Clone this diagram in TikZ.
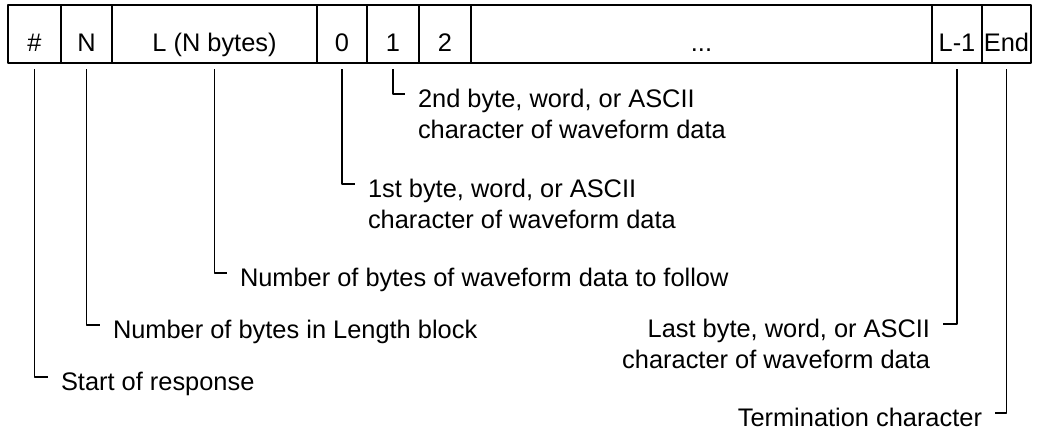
\documentclass[tikz,border=0pt]{standalone}
\usepackage{fontspec}
\setmainfont{Liberation Sans}

\begin{document}
\begin{tikzpicture}[x=1pt, y=-1pt, line join=round,
    font=\fontsize{25.4}{31}\selectfont,
    cell/.style={draw, line width=1.8pt, minimum height=58pt, inner sep=0pt, outer sep=0pt, text height=34pt, text depth=0pt},
    lbl/.style={inner xsep=13pt, inner ysep=0pt, outer sep=0pt, text height=26pt, text depth=0pt},
    leader/.style={line width=1.2pt}]
    \useasboundingbox (0,0) rectangle (1041,434);

    % 数据块
    \node[cell, minimum width=53pt] (hash) at (34.5,34) {\#};
    \node[cell, minimum width=51pt] (num) at (86.5,34) {N};
    \node[cell, minimum width=205pt] (len) at (214.5,34) {L (N bytes)};
    \node[cell, minimum width=50pt] (byteA) at (342,34) {0};
    \node[cell, minimum width=52pt] (byteB) at (393,34) {1};
    \node[cell, minimum width=52pt] (byteC) at (445,34) {2};
    \node[cell, minimum width=461pt] (dots) at (701.5,34) {...};
    \node[cell, minimum width=50pt] (byteLast) at (957,34) {L-1};
    \node[cell, minimum width=49pt] (term) at (1006.5,34) {End};

    % 说明文字
    \node[lbl, anchor=west] (tSecond) at (405,94)
        {\begin{tabular}[t]{@{}l@{}}2nd byte, word, or ASCII\\character of waveform data\end{tabular}};
    \node[lbl, anchor=west] (tFirst) at (355,184)
        {\begin{tabular}[t]{@{}l@{}}1st byte, word, or ASCII\\character of waveform data\end{tabular}};
    \node[lbl, anchor=west] (tCount) at (227,273) {Number of bytes of waveform data to follow};
    \node[lbl, anchor=west] (tLen) at (100,325) {Number of bytes in Length block};
    \node[lbl, anchor=west] (tStart) at (48,377) {Start of response};
    \node[lbl, anchor=east] (tLast) at (943,324)
        {\begin{tabular}[t]{@{}r@{}}Last byte, word, or ASCII\\character of waveform data\end{tabular}};
    \node[lbl, anchor=east] (tEnd) at (995,413) {Termination character};

    % 引线
    \draw[leader] ([yshift=-6pt]byteB.south) |- (tSecond.west);
    \draw[leader] ([yshift=-6pt]byteA.south) |- (tFirst.west);
    \draw[leader] ([yshift=-6pt]len.south) |- (tCount.west);
    \draw[leader] ([yshift=-6pt]num.south) |- (tLen.west);
    \draw[leader] ([yshift=-6pt]hash.south) |- (tStart.west);
    \draw[leader] ([yshift=-6pt]byteLast.south) |- (tLast.east);
    \draw[leader] ([yshift=-6pt]term.south) |- (tEnd.east);
\end{tikzpicture}
\end{document}
